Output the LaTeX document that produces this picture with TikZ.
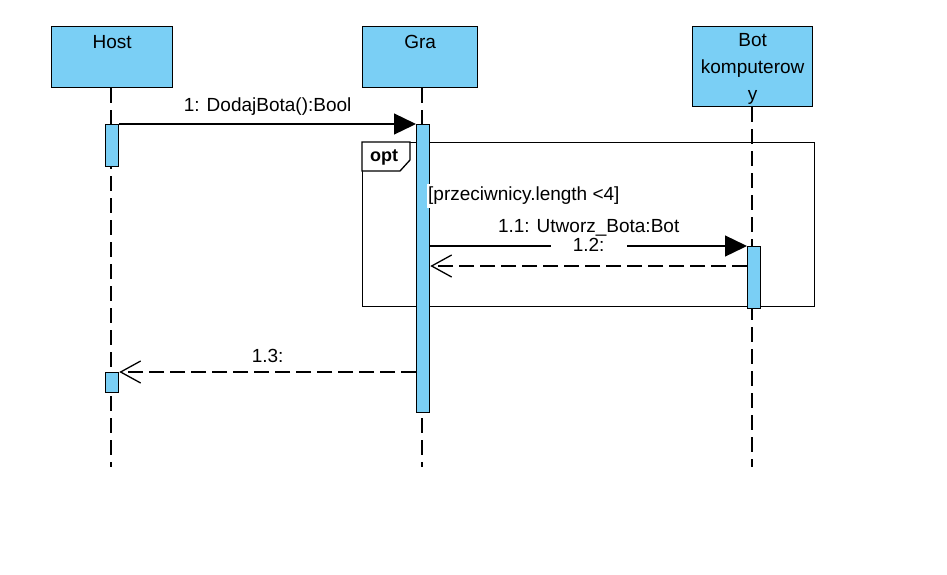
\documentclass[tikz,border=0pt]{standalone}
\usepackage{fontspec}
\setmainfont{Liberation Sans}
\usepackage{xcolor}
\usetikzlibrary{arrows.meta,positioning,calc}
\definecolor{lifeblue}{RGB}{122,207,245}

\begin{document}
\begin{tikzpicture}[
      x=1pt, y=-1pt,
      font=\fontsize{19}{27}\selectfont,
      actor/.style={rectangle, draw, line width=1.3pt, fill=lifeblue, anchor=north west, inner sep=0pt},
      bar/.style={rectangle, draw, line width=1.3pt, fill=lifeblue, anchor=north west, inner sep=0pt, minimum width=13pt},
      lifeline/.style={line width=1.6pt, dash pattern=on 15pt off 7pt},
      call/.style={-{Triangle[length=22pt, width=21pt]}, line width=1.3pt},
      reply/.style={-{Straight Barb[length=20pt, width=22pt]}, line width=1.3pt, dash pattern=on 15pt off 6pt},
      msg/.style={midway, above=8pt, inner sep=0pt}
    ]
      \useasboundingbox (0,0) rectangle (947,574);

      % Lifeline heads
      \node[actor, minimum width=121pt, minimum height=61pt] (host) at (51,26) {};
      \node[anchor=north] at ([yshift=-6pt]host.north) {Host};
      \node[actor, minimum width=115pt, minimum height=61pt] (gra) at (362,26) {};
      \node[anchor=north] at ([yshift=-6pt]gra.north) {Gra};
      \node[actor, minimum width=120pt, minimum height=80pt] (bot) at (692,26) {};
      \node[anchor=north, align=center] at ([yshift=-4pt]bot.north) {Bot\\komputerow\\y};

      % Lifelines
      \coordinate (hostend) at (111,467);
      \coordinate (graend) at (422,467);
      \coordinate (botend) at (752,467);
      \draw[lifeline] (host.south -| hostend) -- (hostend);
      \draw[lifeline] (gra.south -| graend) -- (graend);
      \draw[lifeline] (bot.south -| botend) -- (botend);

      % opt fragment
      \node[rectangle, draw, line width=1.3pt, anchor=north west, minimum width=452pt, minimum height=164pt, inner sep=0pt] (opt) at (362,142) {};
      \draw[line width=1.3pt, fill=white] (opt.north west) -- ++(48,0) -- ++(0,18) -- ++(-10,11) -- ++(-38,0) -- cycle;
      \node[font=\fontsize{18}{20}\selectfont\bfseries] (optlabel) at (384,157) {opt};

      % Activations
      \node[bar, minimum height=42pt] (hostbar) at (105,124) {};
      \node[bar, minimum height=288pt] (grabar) at (416,124) {};
      \node[bar, minimum height=62pt] (botbar) at (747,246) {};
      \node[bar, minimum height=20pt] (hostbar2) at (105,372) {};

      % Guard
      \node[anchor=west, fill=white, inner xsep=1pt, inner ysep=3pt] (guard) at (427,196) {[przeciwnicy.length <4]};

      % Messages
      \draw[call] (hostbar.north east) -- node[msg] {1: DodajBota():Bool} (grabar.north west);
      \draw[call] (grabar.east |- botbar.north) -- node[msg, above=9pt] {1.1: Utworz\_Bota:Bot} (botbar.north west);
      \coordinate (ret) at ($(botbar.north west)+(0,20)$);
      \draw[reply] (ret) -- node[midway, yshift=21pt, fill=white, inner xsep=22pt, inner ysep=1pt] {1.2:} (grabar.east |- ret);
      \draw[reply] (grabar.west |- hostbar2.north) -- node[msg, above=9pt] {1.3:} (hostbar2.north east);
    \end{tikzpicture}
\end{document}
